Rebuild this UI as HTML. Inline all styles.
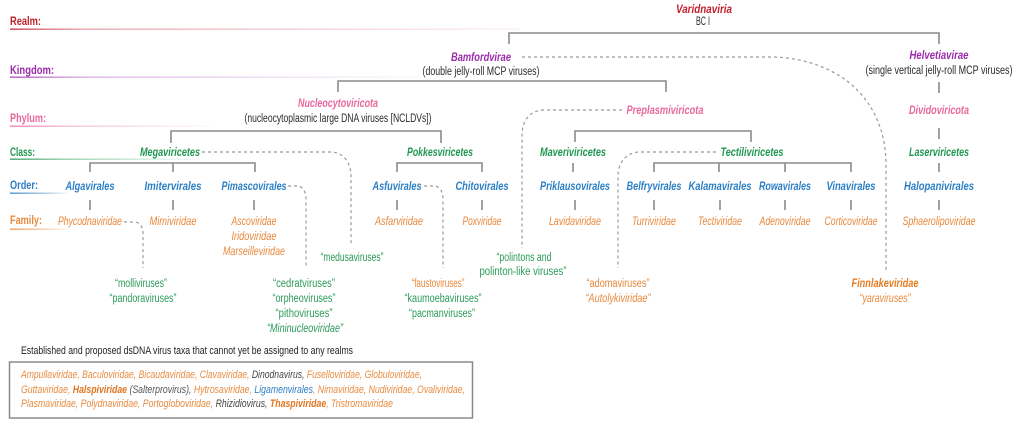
<!DOCTYPE html>
<html><head><meta charset="utf-8"><style>
html,body{margin:0;padding:0;background:#fff;}
svg{display:block;}
text{font-family:"Liberation Sans",sans-serif;}
.lab{font-weight:bold;font-size:12px;}
.n{font-weight:bold;font-style:italic;font-size:12px;}
.d{font-size:11.5px;fill:#2a2a2a;}
.f{font-style:italic;font-size:11.5px;fill:#e8873a;}
.g{font-size:11.5px;fill:#2a9a58;}
.o{font-size:11.5px;fill:#e8873a;}
.red{fill:#c2202e}.pur{fill:#9b2ca9}.pink{fill:#e8689c}.grn{fill:#1f9752}.blu{fill:#2b7fc4}
.ln{stroke:#8a8a8a;stroke-width:1.6;fill:none;}
.ds{stroke:#9a9a9a;stroke-width:1.2;fill:none;stroke-dasharray:3 3;}
</style></head><body>
<svg width="1024" height="437" viewBox="0 0 1024 437" xmlns="http://www.w3.org/2000/svg">
<defs>
<linearGradient id="gR" x1="0" x2="1"><stop offset="0" stop-color="#c8283c" stop-opacity="0.9"/><stop offset="0.15" stop-color="#d85060" stop-opacity="0.5"/><stop offset="1" stop-color="#e07080" stop-opacity="0.1"/></linearGradient>
<linearGradient id="gK" x1="0" x2="1"><stop offset="0" stop-color="#9b2ca9" stop-opacity="0.8"/><stop offset="0.2" stop-color="#b060c0" stop-opacity="0.45"/><stop offset="1" stop-color="#c080d0" stop-opacity="0.06"/></linearGradient>
<linearGradient id="gP" x1="0" x2="1"><stop offset="0" stop-color="#e8689c" stop-opacity="0.8"/><stop offset="0.3" stop-color="#e8689c" stop-opacity="0.4"/><stop offset="1" stop-color="#e8689c" stop-opacity="0.03"/></linearGradient>
<linearGradient id="gC" x1="0" x2="1"><stop offset="0" stop-color="#1f9752" stop-opacity="0.85"/><stop offset="0.3" stop-color="#1f9752" stop-opacity="0.45"/><stop offset="1" stop-color="#1f9752" stop-opacity="0.03"/></linearGradient>
<linearGradient id="gO" x1="0" x2="1"><stop offset="0" stop-color="#2b7fc4" stop-opacity="0.85"/><stop offset="0.6" stop-color="#2b7fc4" stop-opacity="0.4"/><stop offset="1" stop-color="#2b7fc4" stop-opacity="0"/></linearGradient>
<linearGradient id="gF" x1="0" x2="1"><stop offset="0" stop-color="#e98b3f" stop-opacity="0.85"/><stop offset="0.6" stop-color="#e98b3f" stop-opacity="0.4"/><stop offset="1" stop-color="#e98b3f" stop-opacity="0"/></linearGradient>
</defs>

<!-- rank labels -->
<text class="lab red" x="10" y="25" textLength="31" lengthAdjust="spacingAndGlyphs">Realm:</text>
<rect x="10" y="28.5" width="510" height="1.4" fill="url(#gR)"/>
<text class="lab pur" x="10" y="74" textLength="44" lengthAdjust="spacingAndGlyphs">Kingdom:</text>
<rect x="10" y="76.5" width="410" height="1.4" fill="url(#gK)"/>
<text class="lab pink" x="10" y="122" textLength="36" lengthAdjust="spacingAndGlyphs">Phylum:</text>
<rect x="10" y="125.5" width="200" height="1.4" fill="url(#gP)"/>
<text class="lab grn" x="10" y="156" textLength="25" lengthAdjust="spacingAndGlyphs">Class:</text>
<rect x="10" y="158.5" width="190" height="1.4" fill="url(#gC)"/>
<text class="lab blu" x="10" y="189" textLength="28" lengthAdjust="spacingAndGlyphs">Order:</text>
<rect x="10" y="192.5" width="60" height="1.4" fill="url(#gO)"/>
<text class="lab" style="fill:#e98b3f" x="10" y="224" textLength="32" lengthAdjust="spacingAndGlyphs">Family:</text>
<rect x="10" y="228.5" width="60" height="1.4" fill="url(#gF)"/>

<!-- solid connectors -->
<path class="ln" d="M509,44 V33 H939 V44"/>
<path class="ln" d="M338,92 V81 H666 V92"/>
<path class="ln" d="M939,82 V93"/>
<path class="ln" d="M171,143 V131 H441 V143"/>
<path class="ln" d="M575,142 V131 H751 V142"/>
<path class="ln" d="M939,128 V139"/>
<path class="ln" d="M90,172 V163 H255 V172 M173,163 V172"/>
<path class="ln" d="M397,172 V163 H482 V172"/>
<path class="ln" d="M573,163 V172"/>
<path class="ln" d="M654,172 V163 H851 V172 M719,163 V172 M785,163 V172"/>
<path class="ln" d="M939,163 V172"/>
<path class="ln" d="M90,200 V210 M173,200 V210 M254,200 V210 M397,200 V210 M482,200 V210 M575,200 V210 M654,200 V210 M720,200 V210 M785,200 V210 M851,200 V210 M939,200 V210"/>

<!-- dashed connectors -->
<path class="ds" d="M522,57 L775,57 C840,60 886,100 886,165 V272"/>
<path class="ds" d="M622,110 H545 C530,110 522,120 522,136 V248"/>
<path class="ds" d="M202,152 H330 C343,152 351,162 351,176 V246"/>
<path class="ds" d="M288,186 H297 C303,186 306,192 306,200 V268"/>
<path class="ds" d="M124,222 H134 C140,222 143,227 143,234 V268"/>
<path class="ds" d="M424,186 H434 C440,186 443,192 443,200 V268"/>
<path class="ds" d="M716,152 H640 C627,152 618,162 618,176 V268"/>

<!-- realm / kingdom / phylum -->
<text class="n red" x="704" y="13" text-anchor="middle" textLength="56" lengthAdjust="spacingAndGlyphs">Varidnaviria</text>
<text class="d" x="703" y="25" text-anchor="middle" textLength="14" lengthAdjust="spacingAndGlyphs">BC I</text>
<text class="n pur" x="481" y="61" text-anchor="middle" textLength="60" lengthAdjust="spacingAndGlyphs">Bamfordvirae</text>
<text class="d" x="481" y="75" text-anchor="middle" textLength="117" lengthAdjust="spacingAndGlyphs">(double jelly-roll MCP viruses)</text>
<text class="n pur" x="939" y="59" text-anchor="middle" textLength="59" lengthAdjust="spacingAndGlyphs">Helvetiavirae</text>
<text class="d" x="939" y="74" text-anchor="middle" textLength="147" lengthAdjust="spacingAndGlyphs">(single vertical jelly-roll MCP viruses)</text>
<text class="n pink" x="338" y="107" text-anchor="middle" textLength="80" lengthAdjust="spacingAndGlyphs">Nucleocytoviricota</text>
<text class="d" x="338" y="122" text-anchor="middle" textLength="187" lengthAdjust="spacingAndGlyphs">(nucleocytoplasmic large DNA viruses [NCLDVs])</text>
<text class="n pink" x="665" y="114" text-anchor="middle" textLength="77" lengthAdjust="spacingAndGlyphs">Preplasmiviricota</text>
<text class="n pink" x="939" y="114" text-anchor="middle" textLength="60" lengthAdjust="spacingAndGlyphs">Dividoviricota</text>

<!-- classes -->
<g class="n grn" text-anchor="middle">
<text x="170" y="156" textLength="60" lengthAdjust="spacingAndGlyphs">Megaviricetes</text>
<text x="440" y="156" textLength="66" lengthAdjust="spacingAndGlyphs">Pokkesviricetes</text>
<text x="573" y="156" textLength="66" lengthAdjust="spacingAndGlyphs">Maveriviricetes</text>
<text x="752" y="156" textLength="63" lengthAdjust="spacingAndGlyphs">Tectiliviricetes</text>
<text x="939" y="156" textLength="60" lengthAdjust="spacingAndGlyphs">Laserviricetes</text>
</g>

<!-- orders -->
<g class="n blu" text-anchor="middle">
<text x="90" y="190" textLength="49" lengthAdjust="spacingAndGlyphs">Algavirales</text>
<text x="173" y="190" textLength="57" lengthAdjust="spacingAndGlyphs">Imitervirales</text>
<text x="254" y="190" textLength="65" lengthAdjust="spacingAndGlyphs">Pimascovirales</text>
<text x="397" y="190" textLength="49" lengthAdjust="spacingAndGlyphs">Asfuvirales</text>
<text x="482" y="190" textLength="53" lengthAdjust="spacingAndGlyphs">Chitovirales</text>
<text x="575" y="190" textLength="70" lengthAdjust="spacingAndGlyphs">Priklausovirales</text>
<text x="654" y="190" textLength="55" lengthAdjust="spacingAndGlyphs">Belfryvirales</text>
<text x="720" y="190" textLength="63" lengthAdjust="spacingAndGlyphs">Kalamavirales</text>
<text x="785" y="190" textLength="52" lengthAdjust="spacingAndGlyphs">Rowavirales</text>
<text x="851" y="190" textLength="49" lengthAdjust="spacingAndGlyphs">Vinavirales</text>
<text x="939" y="190" textLength="70" lengthAdjust="spacingAndGlyphs">Halopanivirales</text>
</g>

<!-- families -->
<g class="f" text-anchor="middle">
<text x="90" y="225" textLength="64" lengthAdjust="spacingAndGlyphs">Phycodnaviridae</text>
<text x="173" y="225" textLength="47" lengthAdjust="spacingAndGlyphs">Mimiviridae</text>
<text x="254" y="225" textLength="45" lengthAdjust="spacingAndGlyphs">Ascoviridae</text>
<text x="254" y="240" textLength="45" lengthAdjust="spacingAndGlyphs">Iridoviridae</text>
<text x="254" y="255" textLength="62" lengthAdjust="spacingAndGlyphs">Marseilleviridae</text>
<text x="399" y="225" textLength="48" lengthAdjust="spacingAndGlyphs">Asfarviridae</text>
<text x="482" y="225" textLength="39" lengthAdjust="spacingAndGlyphs">Poxviridae</text>
<text x="575" y="225" textLength="52" lengthAdjust="spacingAndGlyphs">Lavidaviridae</text>
<text x="654" y="225" textLength="44" lengthAdjust="spacingAndGlyphs">Turriviridae</text>
<text x="720" y="225" textLength="44" lengthAdjust="spacingAndGlyphs">Tectiviridae</text>
<text x="785" y="225" textLength="51" lengthAdjust="spacingAndGlyphs">Adenoviridae</text>
<text x="851" y="225" textLength="53" lengthAdjust="spacingAndGlyphs">Corticoviridae</text>
<text x="939" y="225" textLength="73" lengthAdjust="spacingAndGlyphs">Sphaerolipoviridae</text>
</g>

<!-- unassigned lineages -->
<g text-anchor="middle">
<text class="g" x="352" y="261" textLength="63" lengthAdjust="spacingAndGlyphs">“medusaviruses”</text>
<text class="g" x="524" y="261" textLength="55" lengthAdjust="spacingAndGlyphs">“polintons and</text>
<text class="g" x="523" y="275" textLength="87" lengthAdjust="spacingAndGlyphs">polinton-like viruses”</text>
<text class="g" x="141" y="287" textLength="52" lengthAdjust="spacingAndGlyphs">“molliviruses”</text>
<text class="g" x="143" y="302" textLength="67" lengthAdjust="spacingAndGlyphs">“pandoraviruses”</text>
<text class="g" x="304" y="287" textLength="62" lengthAdjust="spacingAndGlyphs">“cedratviruses”</text>
<text class="g" x="304" y="302" textLength="63" lengthAdjust="spacingAndGlyphs">“orpheoviruses”</text>
<text class="g" x="304" y="317" textLength="57" lengthAdjust="spacingAndGlyphs">“pithoviruses”</text>
<text class="g" x="305" y="332" textLength="76" lengthAdjust="spacingAndGlyphs" style="font-style:italic">“Mininucleoviridae”</text>
<text class="o" x="438" y="287" textLength="53" lengthAdjust="spacingAndGlyphs">“faustoviruses”</text>
<text class="g" x="443" y="302" textLength="77" lengthAdjust="spacingAndGlyphs">“kaumoebaviruses”</text>
<text class="g" x="442" y="317" textLength="66" lengthAdjust="spacingAndGlyphs">“pacmanviruses”</text>
<text class="o" x="618" y="287" textLength="63" lengthAdjust="spacingAndGlyphs">“adomaviruses”</text>
<text class="o" x="618" y="302" textLength="65" lengthAdjust="spacingAndGlyphs" style="font-style:italic">“Autolykiviridae”</text>
<text class="n" style="fill:#e47b25" x="885" y="287" textLength="67" lengthAdjust="spacingAndGlyphs">Finnlakeviridae</text>
<text class="o" x="885" y="302" textLength="51" lengthAdjust="spacingAndGlyphs" style="font-style:italic">“yaraviruses”</text>
</g>

<!-- bottom box -->
<text class="d" x="21" y="354" textLength="332" lengthAdjust="spacingAndGlyphs" style="fill:#222;font-size:11px">Established and proposed dsDNA virus taxa that cannot yet be assigned to any realms</text>
<rect x="9.5" y="362" width="463" height="56" fill="none" stroke="#8a8a8a" stroke-width="1.5"/>
<g style="font-size:11px;font-style:italic;fill:#e98b3f">
<text x="21" y="378" textLength="401" lengthAdjust="spacingAndGlyphs">Ampullaviridae, Baculoviridae, Bicaudaviridae, Clavaviridae, <tspan style="fill:#444">Dinodnavirus,</tspan> Fuselloviridae, Globuloviridae,</text>
<text x="21" y="393" textLength="444" lengthAdjust="spacingAndGlyphs">Guttaviridae, <tspan style="font-weight:bold;fill:#e07520">Halspiviridae</tspan> <tspan style="fill:#555">(Salterprovirus),</tspan> Hytrosaviridae, <tspan style="fill:#2b7fc4">Ligamenvirales</tspan>, Nimaviridae, Nudiviridae, Ovaliviridae,</text>
<text x="21" y="407" textLength="372" lengthAdjust="spacingAndGlyphs">Plasmaviridae, Polydnaviridae, Portogloboviridae, <tspan style="fill:#444">Rhizidiovirus,</tspan> <tspan style="font-weight:bold;fill:#e07520">Thaspiviridae</tspan>, Tristromaviridae</text>
</g>
</svg>
</body></html>
